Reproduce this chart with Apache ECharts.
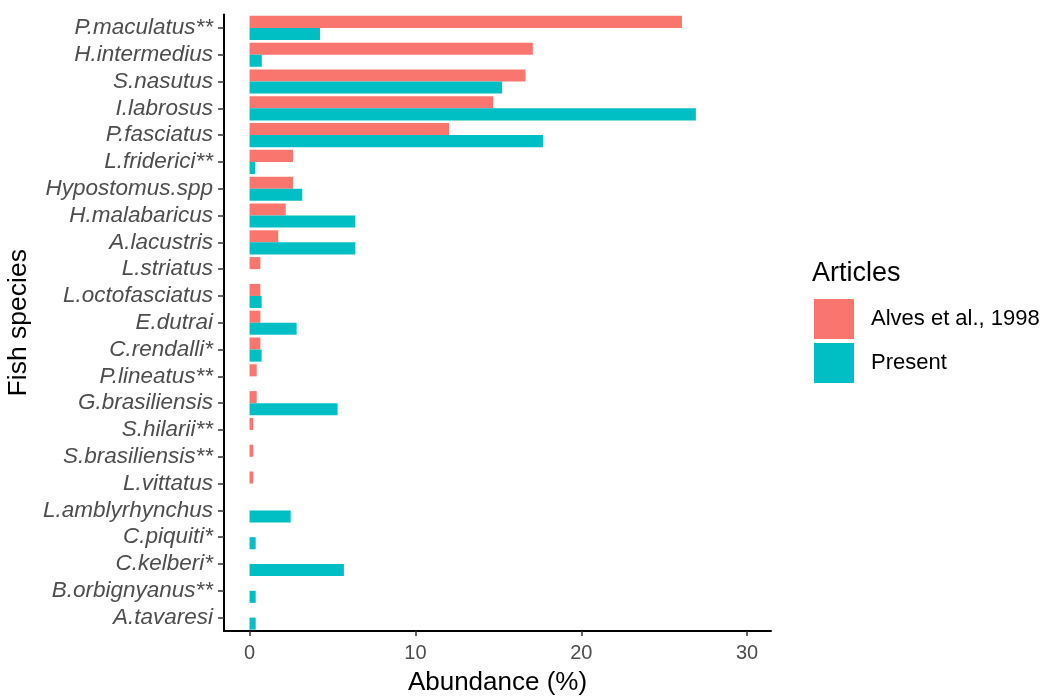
<!DOCTYPE html>
<html>
<head>
<meta charset="utf-8">
<script src="https://cdn.jsdelivr.net/npm/echarts@6/dist/echarts.min.js"></script>
<style>
  html, body { margin: 0; padding: 0; background: #fff; }
  #chart { width: 1044px; height: 696px; }
</style>
</head>
<body>
<div id="chart"></div>
<script>
// Fish species, listed top to bottom
const species = [
  'P.maculatus**', 'H.intermedius', 'S.nasutus', 'I.labrosus', 'P.fasciatus',
  'L.friderici**', 'Hypostomus.spp', 'H.malabaricus', 'A.lacustris', 'L.striatus',
  'L.octofasciatus', 'E.dutrai', 'C.rendalli*', 'P.lineatus**', 'G.brasiliensis',
  'S.hilarii**', 'S.brasiliensis**', 'L.vittatus', 'L.amblyrhynchus', 'C.piquiti*',
  'C.kelberi*', 'B.orbignyanus**', 'A.tavaresi'
];

// Abundance (%) reported by Alves et al., 1998
const alves = [
  26.07, 17.08, 16.64, 14.69, 12.03,
  2.62, 2.62, 2.18, 1.73, 0.65,
  0.65, 0.65, 0.65, 0.43, 0.43,
  0.22, 0.22, 0.22, 0, 0,
  0, 0, 0
];

// Abundance (%) in the present study
const present = [
  4.25, 0.74, 15.23, 26.91, 17.70,
  0.34, 3.18, 6.38, 6.38, 0,
  0.73, 2.84, 0.73, 0, 5.31,
  0, 0, 0, 2.48, 0.37,
  5.69, 0.37, 0.37
];

const seriesNames = ['Alves et al., 1998', 'Present'];
const xTicks = [0, 10, 20, 30];

const RED = '#F8766D';
const TEAL = '#00BFC4';
const FONT = '"Liberation Sans", Arial, Helvetica, sans-serif';

const chart = echarts.init(document.getElementById('chart'), null, { renderer: 'canvas' });

chart.setOption({
  animation: false,
  backgroundColor: '#ffffff',
  textStyle: { fontFamily: FONT },
  title: {
    text: 'Articles',
    left: 812,
    top: 260,
    padding: 0,
    textStyle: { fontFamily: FONT, fontSize: 27, fontWeight: 'normal', color: '#000' }
  },
  legend: {
    data: seriesNames,
    orient: 'vertical',
    left: 814,
    top: 299,
    padding: 0,
    itemWidth: 40,
    itemHeight: 40,
    itemGap: 4,
    icon: 'rect',
    textStyle: { fontFamily: FONT, fontSize: 22, color: '#000', padding: [3, 0, 0, 12] }
  },
  grid: {
    left: 224,
    right: 273,
    top: 14.5,
    bottom: 65,
    containLabel: false,
    outerBoundsMode: 'none'
  },
  xAxis: {
    type: 'value',
    min: -1.54,
    max: 31.44,
    name: 'Abundance (%)',
    nameLocation: 'middle',
    nameGap: 39,
    nameMoveOverlap: false,
    nameTextStyle: { fontFamily: FONT, fontSize: 26, color: '#000' },
    axisLine: { show: true, onZero: false, lineStyle: { color: '#000', width: 2 } },
    axisTick: { show: true, length: 5, customValues: xTicks, lineStyle: { color: '#333', width: 1.5 } },
    axisLabel: {
      customValues: xTicks,
      fontFamily: FONT, fontSize: 20, color: '#4D4D4D', margin: 12
    },
    splitLine: { show: false }
  },
  yAxis: {
    type: 'category',
    inverse: true,
    data: species,
    name: 'Fish species',
    nameLocation: 'middle',
    nameGap: 192,
    nameRotate: 90,
    nameMoveOverlap: false,
    nameTextStyle: { fontFamily: FONT, fontSize: 26.5, color: '#000' },
    axisLine: { show: true, onZero: false, lineStyle: { color: '#000', width: 2 } },
    axisTick: { show: true, alignWithLabel: true, length: 6, lineStyle: { color: '#333', width: 1.5 } },
    axisLabel: {
      fontFamily: FONT, fontSize: 22.5, fontStyle: 'italic', color: '#4D4D4D', margin: 11,
      interval: 0
    }
  },
  series: [
    {
      name: seriesNames[0],
      type: 'bar',
      data: alves,
      itemStyle: { color: RED },
      barGap: '0%',
      barCategoryGap: '10%'
    },
    {
      name: seriesNames[1],
      type: 'bar',
      data: present,
      itemStyle: { color: TEAL },
      barGap: '0%',
      barCategoryGap: '10%'
    }
  ]
});
</script>
</body>
</html>
